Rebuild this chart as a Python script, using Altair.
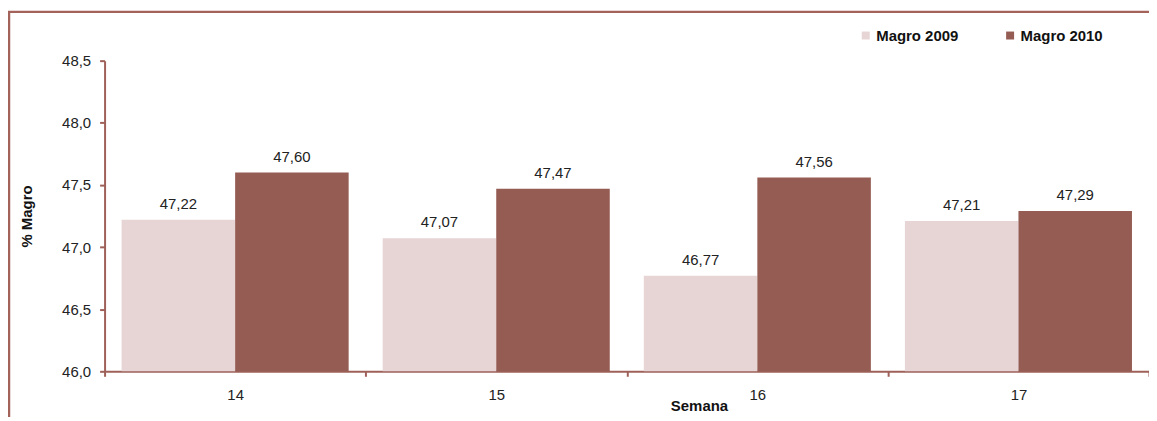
import altair as alt
import pandas as pd

semanas = ["14", "15", "16", "17"]
series = ["Magro 2009", "Magro 2010"]
magro_2009 = [47.22, 47.07, 46.77, 47.21]
magro_2010 = [47.60, 47.47, 47.56, 47.29]
y_ticks = [46.0, 46.5, 47.0, 47.5, 48.0, 48.5]
colors = ["#E7D5D5", "#955C53"]

rows = []
for i, s in enumerate(semanas):
    rows.append({"Semana": s, "serie": series[0], "valor": magro_2009[i]})
    rows.append({"Semana": s, "serie": series[1], "valor": magro_2010[i]})
df = pd.DataFrame(rows)

FONT = "Liberation Sans"
AXIS_COLOR = "#9E6058"

x_enc = alt.X("Semana:N", sort=semanas,
              scale=alt.Scale(paddingInner=0, paddingOuter=0),
              axis=alt.Axis(title="Semana", labelAngle=0, tickBand="extent", grid=False,
                            domainColor=AXIS_COLOR, domainWidth=2,
                            tickColor=AXIS_COLOR, tickWidth=2, tickSize=5,
                            labelFont=FONT, labelFontSize=15, labelColor="#222",
                            labelPadding=11,
                            titleFont=FONT, titleFontSize=15, titleFontWeight="bold",
                            titleColor="#111", titleX=597, titleY=34,
                            titleAlign="center", titleBaseline="middle"))
xoff = alt.XOffset("serie:N", sort=series,
                   scale=alt.Scale(paddingOuter=0.15, paddingInner=0))
y_enc = alt.Y("valor:Q",
              scale=alt.Scale(domain=[y_ticks[0], y_ticks[-1]], zero=False, nice=False),
              axis=alt.Axis(title="% Magro", values=y_ticks, grid=False,
                            labelExpr="replace(format(datum.value, '.1f'), '.', ',')",
                            domainColor=AXIS_COLOR, domainWidth=2,
                            tickColor=AXIS_COLOR, tickWidth=2, tickSize=5,
                            labelFont=FONT, labelFontSize=15, labelColor="#222",
                            labelPadding=9,
                            titleFont=FONT, titleFontSize=15, titleFontWeight="bold",
                            titleColor="#111", titleX=-78, titleY=156,
                            titleAngle=270, titleAlign="center", titleBaseline="middle"))

base = alt.Chart(df)

frame = alt.Chart(alt.Data(values=[{"a": 1}])).mark_rect(
    filled=False, color="#A3625A", strokeWidth=2.5
).encode(x=alt.value(-96), x2=alt.value(1070), y=alt.value(-49), y2=alt.value(420))

bars = base.mark_bar().encode(
    x=x_enc,
    xOffset=xoff,
    y=y_enc,
    y2=alt.datum(y_ticks[0]),
    color=alt.Color("serie:N", sort=series,
                    scale=alt.Scale(domain=series, range=colors),
                    legend=alt.Legend(title=None, orient="none", direction="horizontal",
                                      legendX=757, legendY=-33, padding=0,
                                      symbolType="square", symbolSize=64,
                                      symbolStrokeWidth=0, labelFont=FONT,
                                      labelFontSize=15, labelFontWeight="bold",
                                      labelColor="#111", labelOffset=3,
                                      columnPadding=44)),
)

labels = base.transform_calculate(
    lbl="replace(format(datum.valor, '.2f'), '.', ',')"
).mark_text(font=FONT, fontSize=15, color="#222", baseline="alphabetic", dy=-11).encode(
    x=alt.X("Semana:N", sort=semanas),
    xOffset=alt.XOffset("serie:N", sort=series),
    y=alt.Y("valor:Q"),
    text="lbl:N",
)

chart = alt.layer(frame, bars, labels).properties(
    width=1049, height=312,
    background="white",
    autosize=alt.AutoSizeParams(type="none"),
    padding={"left": 97, "top": 52, "right": 0, "bottom": 45},
).configure_view(stroke="transparent", strokeWidth=0).configure_axis(grid=False)

chart.save("out.html", embed_options={"renderer": "svg", "actions": False})
